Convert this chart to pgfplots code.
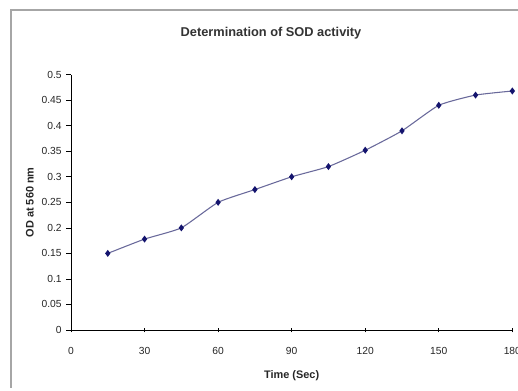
\documentclass[border=0pt]{standalone}
\usepackage{pgfplots}
\pgfplotsset{compat=1.18}
\usepackage{fontspec}
\setmainfont{Liberation Sans}
\definecolor{navy}{RGB}{20,20,110}
\definecolor{linec}{RGB}{105,105,155}
\begin{document}
\begin{tikzpicture}
\clip[x=0.75pt,y=0.75pt] (-71,-61) rectangle (447,330);
\begin{scope}[x=0.75pt,y=0.75pt]
\fill[white] (-71,-61) rectangle (447,330);
\draw[gray!70, line width=1.2pt] (-60,-58) -- (-60,320) -- (449,320);
\node[font=\fontsize{9.6}{11}\selectfont\bfseries, text=black!80] at (200,297) {Determination of SOD activity};
\end{scope}
\begin{axis}[
  anchor=origin, at={(0pt,0pt)},
  scale only axis, width=331pt, height=191.5pt,
  xmin=0, xmax=180, ymin=0, ymax=0.5,
  axis lines=left, axis line style={-, line width=0.6pt},
  xtick={0,30,...,180}, ytick={0,0.05,...,0.5},
  xtick align=center, ytick align=outside, major tick length=3.5pt,
  tick style={black, line width=0.5pt},
  ticklabel style={font=\fontsize{7.7}{9}\selectfont, text=black!85},
  xticklabel style={yshift=-8pt},
  /pgf/number format/assume math mode=true,
  yticklabel style={/pgf/number format/fixed, /pgf/number format/precision=2},
  xlabel={\textbf{Time (Sec)}}, ylabel={\textbf{OD at 560 nm}},
  label style={font=\fontsize{8.2}{9}\selectfont, text=black!85},
  xlabel style={yshift=-4.5pt},
  ylabel style={yshift=-1pt},
  clip=false,
]
\addplot[color=linec, line width=0.8pt, smooth, tension=0.3, mark=diamond*, mark size=2pt, mark options={fill=navy, draw=navy}]
coordinates {(15,0.15) (30,0.178) (45,0.2) (60,0.25) (75,0.275) (90,0.3) (105,0.32) (120,0.352) (135,0.39) (150,0.44) (165,0.46) (180,0.468)};
\end{axis}
\end{tikzpicture}
\end{document}
